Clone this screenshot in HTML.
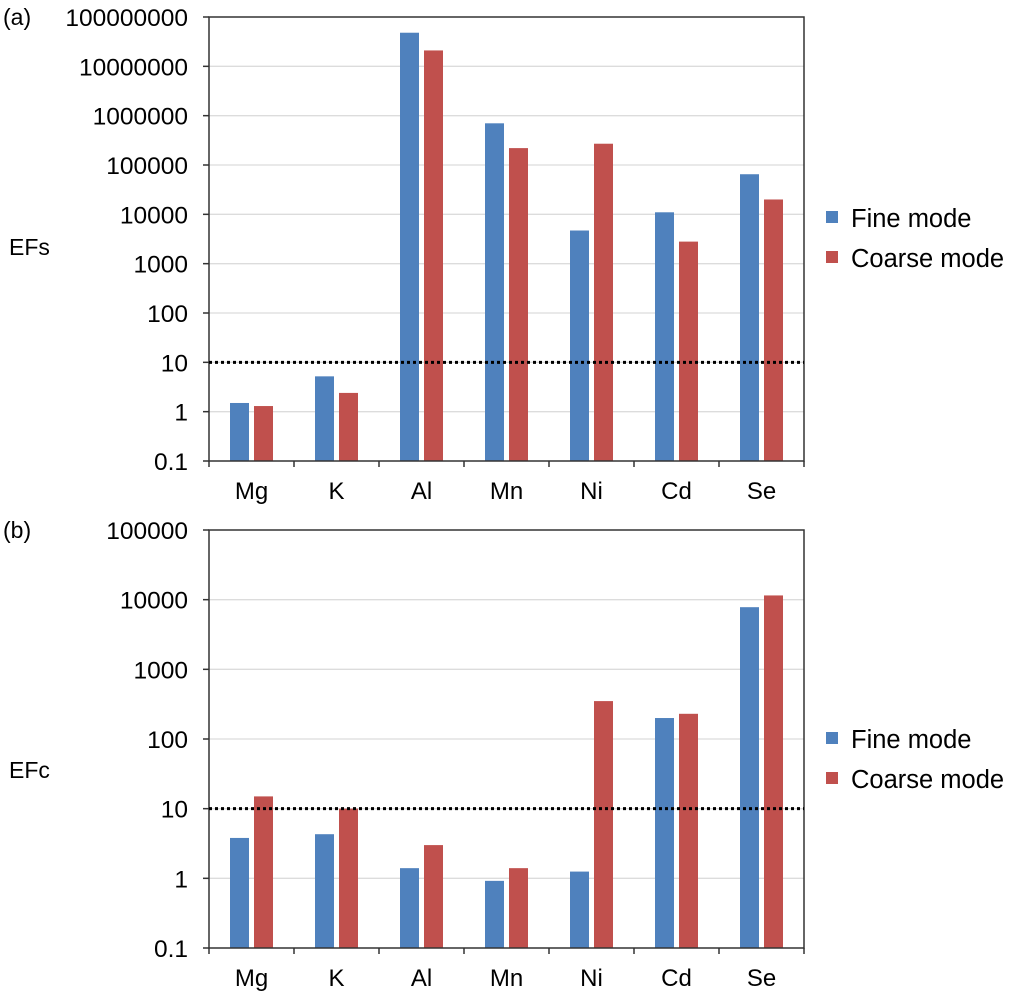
<!DOCTYPE html>
<html><head><meta charset="utf-8"><style>
html,body{margin:0;padding:0;background:#fff;}
svg{display:block;font-family:"Liberation Sans",Arial,sans-serif;}
</style></head><body>
<svg id="s" width="1020" height="994" xmlns="http://www.w3.org/2000/svg"></svg>
<script>
const s=document.getElementById('s');let h='';
const cats=['Mg','K','Al','Mn','Ni','Cd','Se'];
function chart(top,bot,dmin,dmax,labels,fine,coarse,ylab,tag,legY,ylabY){
  const x0=209,x1=804,cw=85,n=dmax-dmin,pd=(bot-top)/n;
  const Y=v=>bot-(Math.log10(v)-dmin)*pd;
  h+=`<text x="3" y="${top+8}" font-size="23">${tag}</text>`;
  h+=`<text x="9" y="${ylabY}" font-size="23">${ylab}</text>`;
  for(let i=0;i<=n;i++){const y=bot-i*pd;
    if(i>0&&i<n)h+=`<line x1="${x0}" x2="${x1}" y1="${y}" y2="${y}" stroke="#dcdcdc" stroke-width="1.3"/>`;
    h+=`<line x1="${x0-6}" x2="${x0}" y1="${y}" y2="${y}" stroke="#333" stroke-width="1.5"/>`;
    h+=`<text x="188" y="${y+9}" font-size="24.5" text-anchor="end">${labels[i]}</text>`;}
  cats.forEach((c,i)=>{const cx=x0+i*cw;
    const yf=Y(fine[i]),yc=Y(coarse[i]);
    h+=`<rect x="${cx+21}" y="${yf}" width="19" height="${bot-yf}" fill="#4f81bd"/>`;
    h+=`<rect x="${cx+45}" y="${yc}" width="19" height="${bot-yc}" fill="#c0504d"/>`;
    h+=`<line x1="${cx+cw}" x2="${cx+cw}" y1="${bot}" y2="${bot+6}" stroke="#333" stroke-width="1.5"/>`;
    h+=`<text x="${cx+cw/2}" y="${bot+38}" font-size="24" text-anchor="middle">${c}</text>`;});
  h+=`<line x1="${x0}" x2="${x0}" y1="${bot+6}" y2="${bot}" stroke="#333" stroke-width="1.5"/>`;
  h+=`<rect x="${x0}" y="${top}" width="${x1-x0}" height="${bot-top}" fill="none" stroke="#333" stroke-width="1.5"/>`;
  const y10=Y(10);
  h+=`<line x1="${x0}" x2="${x1}" y1="${y10}" y2="${y10}" stroke="#000" stroke-width="3" stroke-dasharray="3,3"/>`;
  h+=`<rect x="826" y="${legY}" width="12" height="12" fill="#4f81bd"/>`;
  h+=`<text x="851" y="${legY+16}" font-size="25.5">Fine mode</text>`;
  h+=`<rect x="826" y="${legY+40}" width="12" height="12" fill="#c0504d"/>`;
  h+=`<text x="851" y="${legY+56}" font-size="25.5">Coarse mode</text>`;
}
chart(17,461,-1,8,['0.1','1','10','100','1000','10000','100000','1000000','10000000','100000000'],
 [1.5,5.2,4.8e7,7e5,4700,11000,65000],[1.3,2.4,2.1e7,2.2e5,2.7e5,2800,20000],'EFs','(a)',211,255);
chart(530,948,-1,5,['0.1','1','10','100','1000','10000','100000'],
 [3.8,4.3,1.4,0.92,1.25,200,7800],[15,10,3,1.4,350,230,11500],'EFc','(b)',732,778);
s.innerHTML=h;
</script>
</body></html>
